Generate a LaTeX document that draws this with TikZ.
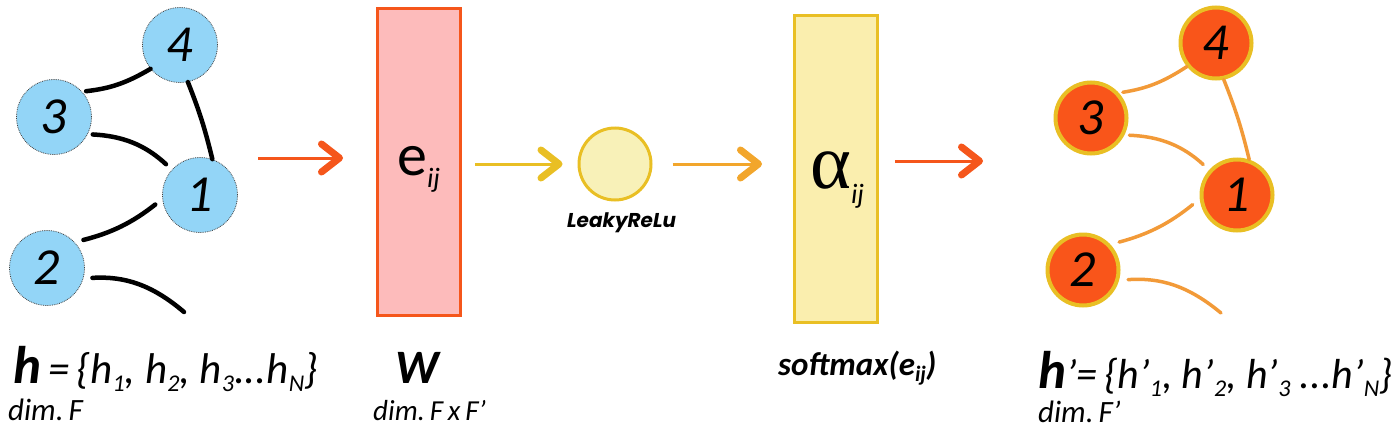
\documentclass[tikz,border=0pt]{standalone}
\usepackage{fontspec}
\setmainfont{Carlito}
\newfontfamily\relufont{Poppins}
\newfontfamily\greekfont{Liberation Serif}
\usetikzlibrary{arrows.meta}
\definecolor{nodeblue}{HTML}{93D5F7}
\definecolor{redorange}{HTML}{F5561B}
\definecolor{nodered}{HTML}{F9551A}
\definecolor{gold}{HTML}{E9BF24}
\definecolor{pinkfill}{HTML}{FDBBBB}
\definecolor{creamfill}{HTML}{FAEEAE}
\definecolor{relufill}{HTML}{F8F1B8}
\definecolor{edgeorange}{HTML}{F29A38}
\definecolor{midorange}{HTML}{F2A62C}
\newcommand{\lowidx}[2]{\raisebox{-0.2em}{\fontsize{#1}{#1}\selectfont #2}}

\begin{document}
\begin{tikzpicture}
[x = 1pt, y = -1pt,
 inode/.style = {circle, minimum size=75pt, inner sep=0pt, fill=nodeblue, draw=black!75, densely dotted, line width=0.8pt, font=\fontsize{52}{52}\selectfont\itshape},
 onode/.style = {circle, minimum size=71pt, inner sep=0pt, fill=nodered, draw=gold, line width=4pt, font=\fontsize{52}{52}\selectfont\itshape},
 iedge/.style = {line width=4.5pt, line cap=round},
 oedge/.style = {draw=edgeorange, line width=3.5pt, line cap=round},
 layer/.style = {rectangle, minimum width=83pt, minimum height=307pt, line width=3pt, inner sep=0pt},
 flow/.style = {draw=#1, line width=3pt, -{Straight Barb[length=18pt, width=28pt, line width=7pt, round]}},
 lab/.style = {anchor=base west, inner sep=0pt}
 ]
\useasboundingbox (0,0) rectangle (1400,439);
\node [inode] (a4) at (180,45) {4};
\node [inode] (a3) at (54,117) {3};
\node [inode] (a1) at (200,195) {1};
\node [inode] (a2) at (47,268) {2};
\coordinate (atail) at (184,312);
\draw [iedge, shorten <=4pt] (a3.42) to[bend right=12] (a4.219);
\draw [iedge] (a4.282) to[bend left=4] (a1.71);
\draw [iedge, shorten <=5pt, shorten >=8pt] (a3.-27) to[bend left=20] (a1.138);
\draw [iedge, shorten <=9pt, shorten >=9pt] (a2.43) to[bend right=12] (a1.186);
\draw [iedge, shorten <=9pt] (a2.-16) to[bend left=22] (atail);
\node [layer, draw=redorange, fill=pinkfill] (wbox) at (419,162) {};
\node [lab, font=\fontsize{60}{60}\selectfont] (eij) at (397,175) {e\lowidx{28}{\itshape ij}};
\node [circle, minimum size=72pt, inner sep=0pt, fill=relufill, draw=gold, line width=3pt] (relu) at (615,164) {};
\node [lab, font=\fontsize{20}{20}\selectfont\relufont\bfseries\itshape] (relulab) at (567,227) {LeakyReLu};
\node [layer, draw=gold, fill=creamfill] (sbox) at (836,169) {};
\node [lab, font=\fontsize{78}{78}\selectfont\greekfont] (aij) at (810,188) {α\lowidx{28}{\normalfont\itshape ij}};
\coordinate (gin) at (258,158);
\coordinate (gout) at (983,161);
\draw [flow=redorange, shorten >=33pt] (gin) -- (gin -| wbox.west);
\draw [flow=gold, shorten <=13pt, shorten >=15pt] (wbox.east |- relu.west) -- (relu.west);
\draw [flow=midorange, shorten <=20pt, shorten >=31pt] (relu.east) -- (relu.east -| sbox.west);
\draw [flow=redorange, shorten <=16pt] (sbox.east |- gout) -- (gout);
\node [onode] (b4) at (1216,43) {4};
\node [onode] (b3) at (1091,118) {3};
\node [onode] (b1) at (1237,195) {1};
\node [onode] (b2) at (1083,270) {2};
\coordinate (btail) at (1221,313);
\draw [oedge, shorten <=4pt] (b3.42) to[bend right=12] (b4.219);
\draw [oedge] (b4.282) to[bend left=4] (b1.71);
\draw [oedge, shorten <=5pt, shorten >=8pt] (b3.-27) to[bend left=20] (b1.138);
\draw [oedge, shorten <=9pt, shorten >=9pt] (b2.43) to[bend right=12] (b1.186);
\draw [oedge, shorten <=9pt] (b2.-16) to[bend left=22] (btail);
\node [lab, font=\fontsize{43}{43}\selectfont\itshape] (hlab) at (13,383) {{\fontsize{53}{53}\selectfont\bfseries h}\,=\,\{h\lowidx{24}{1}, h\lowidx{24}{2}, h\lowidx{24}{3}...h\lowidx{24}{N}\}};
\node [lab, font=\fontsize{31}{31}\selectfont\itshape] (dimF) at (8,420) {dim.\,F};
\node [lab, font=\fontsize{48}{48}\selectfont\bfseries\itshape] (wlab) at (395,383) {W};
\node [lab, font=\fontsize{29}{29}\selectfont\itshape] (dimW) at (373,420) {dim.\,F\,x\,F'};
\node [lab, font=\fontsize{33}{33}\selectfont\bfseries\itshape] (smlab) at (778,375) {softmax(e\lowidx{22}{ij})};
\node [lab, font=\fontsize{42}{42}\selectfont\itshape] (hplab) at (1038,388) {{\fontsize{53}{53}\selectfont\bfseries h}'=\,\{h'\lowidx{24}{1}, h'\lowidx{24}{2}, h'\lowidx{24}{3} ...h'\lowidx{24}{N}\}};
\node [lab, font=\fontsize{31}{31}\selectfont\itshape] (dimFp) at (1038,422) {dim.\,F'};
\end{tikzpicture}
\end{document}
